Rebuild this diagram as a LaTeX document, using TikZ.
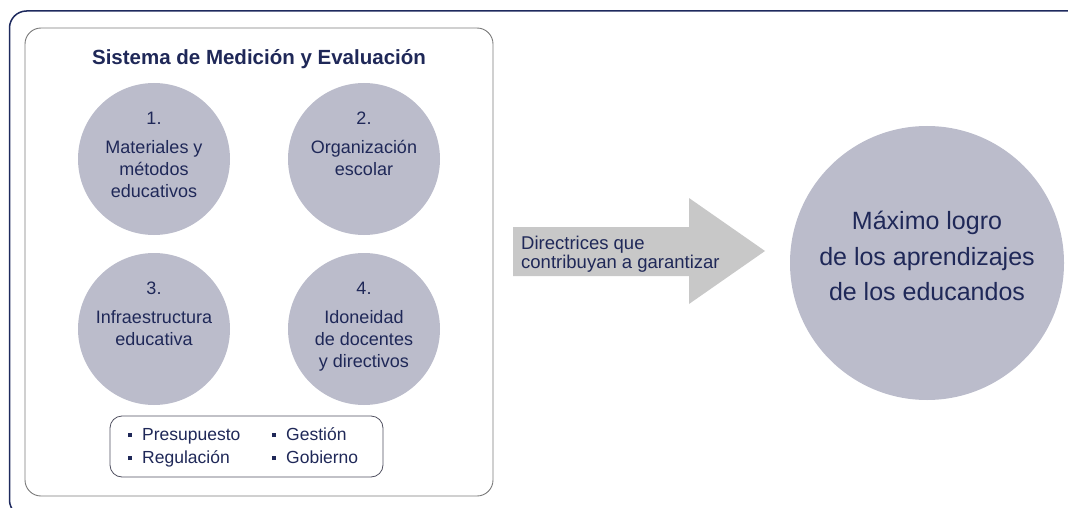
\documentclass[tikz,border=0pt]{standalone}
\usepackage{fontspec}
\setmainfont{Liberation Sans}
\usepackage{xcolor}
\usepackage{tikz}
\usetikzlibrary{positioning}
\definecolor{navytext}{HTML}{1F2858}
\definecolor{frameblue}{HTML}{1E2A5E}
\definecolor{circlegray}{HTML}{BBBCCB}
\definecolor{arrowgray}{HTML}{C8C8C8}
\definecolor{boxgray}{HTML}{7A7A7A}
\definecolor{listgray}{HTML}{505060}
\NewDocumentCommand{\itemword}{m}{%
\rule[3pt]{4pt}{4pt}\hspace{10pt}#1%
}

\begin{document}
\begin{tikzpicture}[x=1pt, y=-1pt,
systemnode/.style={rectangle, rounded corners=16pt, draw=boxgray, line width=0.9pt, minimum width=468pt, minimum height=468pt},
titlenode/.style={anchor=base, inner sep=0pt, text=navytext, font=\fontsize{20.5}{24}\selectfont\bfseries},
areanode/.style={circle, fill=circlegray, minimum size=152pt, inner sep=0pt},
areatext/.style={anchor=north, align=center, inner sep=0pt, text=navytext, font=\fontsize{18}{22}\selectfont},
listnode/.style={rectangle, rounded corners=12pt, draw=listgray, line width=0.8pt, minimum width=273pt, minimum height=61pt},
itemnode/.style={anchor=base west, inner sep=0pt, text=navytext, font=\fontsize{17.5}{21}\selectfont},
arrowtext/.style={anchor=west, align=left, inner sep=0pt, text=navytext, font=\fontsize{18.5}{19}\selectfont},
goalnode/.style={circle, fill=circlegray, minimum size=274pt, inner sep=0pt},
goaltext/.style={align=center, inner sep=0pt, text=navytext, font=\fontsize{25}{35.5}\selectfont},
]
\clip (0,0) rectangle (1068,508);
%Frame
\draw[frameblue, line width=1.5pt, rounded corners=17pt] (9.5,11) rectangle (1100,517);

%Nodes
\node[systemnode]	(sys)		at (259,262)	{};
\node[titlenode]	(title)		at (259,65)		{Sistema de Medición y Evaluación};
\node[areanode]		(area1)		at (154,159)	{};
\node[areanode]		(area2)		at (364,159)	{};
\node[areanode]		(area3)		at (154,329)	{};
\node[areanode]		(area4)		at (364,329)	{};
\node[areatext]		(text1)		at ([yshift=47pt]area1.center)	{1.\\[7pt]Materiales y\\métodos\\educativos};
\node[areatext]		(text2)		at ([yshift=47pt]area2.center)	{2.\\[7pt]Organización\\escolar};
\node[areatext]		(text3)		at ([yshift=47pt]area3.center)	{3.\\[7pt]Infraestructura\\educativa};
\node[areatext]		(text4)		at ([yshift=47pt]area4.center)	{4.\\[7pt]Idoneidad\\de docentes\\y directivos};
\node[listnode]		(list)		at (246.5,446.5)	{};
\node[itemnode]		(presup)	at (128,440)	{\itemword{Presupuesto}};
\node[itemnode]		(gestion)	at (272,440)	{\itemword{Gestión}};
\node[itemnode]		(regul)		at (128,463)	{\itemword{Regulación}};
\node[itemnode]		(gobierno)	at (272,463)	{\itemword{Gobierno}};
\node[goalnode]		(goal)		at (927,263)	{};
\node[goaltext]		(goaltxt)	at ([yshift=7pt]goal.center)	{Máximo logro\\de los aprendizajes\\de los educandos};

%Arrow
\fill[arrowgray] (513,227) -- (689,227) -- (689,198) -- (765,251) -- (689,304) -- (689,276) -- (513,276) -- cycle;
\node[arrowtext]	(directr)	at (521,254)	{Directrices que\\contribuyan a garantizar};
\end{tikzpicture}
\end{document}
